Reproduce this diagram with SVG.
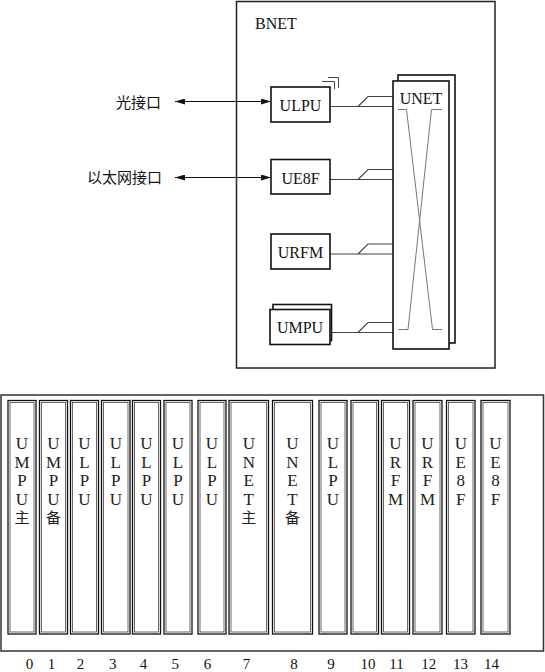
<svg xmlns="http://www.w3.org/2000/svg" width="545" height="672" viewBox="0 0 545 672">
<style>
.box{fill:#fff;stroke:#111;stroke-width:1.6}
.frame{fill:none;stroke:#222;stroke-width:1.5}
.t{font-family:"Liberation Serif","Noto Sans CJK SC",serif;fill:#111}
.cj{font-family:"Noto Sans CJK SC",sans-serif;fill:#111}
.ln{fill:none;stroke:#444;stroke-width:1.1}
.xl{fill:none;stroke:#777;stroke-width:1}
.ar{fill:none;stroke:#111;stroke-width:1}
.so{fill:#fff;stroke:#111;stroke-width:1.3}
.si{fill:none;stroke:#444;stroke-width:0.8}
.st{font-family:"Liberation Serif","Noto Sans CJK SC",serif;font-size:17px;fill:#222;text-anchor:middle}
.dg{font-family:"Liberation Serif",serif;font-size:15px;fill:#111;text-anchor:middle}
</style>
<defs>
<marker id="ah" viewBox="0 0 10 6" refX="10" refY="3" markerWidth="10" markerHeight="6" markerUnits="userSpaceOnUse" orient="auto-start-reverse">
<path d="M0,0 L10,3 L0,6 Z" fill="#111"/>
</marker>
</defs>

<g id="bnet">
<rect class="frame" x="236.5" y="1.5" width="258.5" height="366.5"/>
<text class="t" x="255" y="29" font-size="16">BNET</text>
</g>

<g id="connectors">
<line class="ar" x1="175" y1="101.5" x2="271" y2="101.5" marker-start="url(#ah)" marker-end="url(#ah)"/>
<line class="ar" x1="175" y1="177.5" x2="271" y2="177.5" marker-start="url(#ah)" marker-end="url(#ah)"/>
<path class="ln" d="M330,106.5 H393 M358,106.5 L368,96.5 H393"/>
<path class="ln" d="M330,179.5 H393 M358,179.5 L368,169.5 H393"/>
<path class="ln" d="M330,254 H393 M358,254 L368,244 H393"/>
<path class="ln" d="M330,332.5 H393 M358,332.5 L368,322.5 H393"/>
</g>

<g id="lbl-optical">
<text class="cj" x="161" y="108" font-size="15" text-anchor="end">光接口</text>
</g>
<g id="lbl-eth">
<text class="cj" x="162" y="183" font-size="15" text-anchor="end">以太网接口</text>
</g>

<g id="ulpu">
<rect class="box" x="271" y="87" width="59" height="35"/>
<text class="t" x="300.5" y="110.5" font-size="16" text-anchor="middle">ULPU</text>
<path fill="none" stroke="#444" stroke-width="1" d="M322,81.5 H334.5 V89 M328,77.5 H338.5 V88"/>
</g>

<g id="ue8f">
<rect class="box" x="271" y="159.5" width="59" height="34.5"/>
<text class="t" x="300.5" y="183.5" font-size="16" text-anchor="middle">UE8F</text>
</g>

<g id="urfm">
<rect class="box" x="271" y="234" width="59" height="35"/>
<text class="t" x="300.5" y="258" font-size="16" text-anchor="middle">URFM</text>
</g>

<g id="umpu">
<rect class="box" x="273" y="304.5" width="58.5" height="36"/>
<rect class="box" x="270" y="309.5" width="60" height="35"/>
<text class="t" x="300" y="332.5" font-size="16" text-anchor="middle">UMPU</text>
</g>

<g id="unet">
<rect class="box" x="398" y="75" width="57" height="268"/>
<rect class="box" x="393" y="81" width="56" height="268"/>
<text class="t" x="421" y="103.5" font-size="16" text-anchor="middle">UNET</text>
<path class="xl" d="M398,109.5 H406.5 L432.5,329.5 H442 M442,109.5 H431.5 L408,329.5 H398.5"/>
</g>

<g id="chassis">
<rect fill="none" stroke="#333" stroke-width="1.5" x="1" y="395" width="542.5" height="256"/>
</g>

<g id="slot0"><rect class="so" x="8" y="400.5" width="28" height="233.5"/><rect class="si" x="10" y="402.5" width="24" height="229.5"/>
<text class="st" x="22" y="449">U<tspan x="22" dy="18.5">M</tspan><tspan x="22" dy="18.5">P</tspan><tspan x="22" dy="18.5">U</tspan><tspan x="22" dy="18.5" font-size="15">主</tspan></text></g>
<g id="slot1"><rect class="so" x="39.5" y="400.5" width="28" height="233.5"/><rect class="si" x="41.5" y="402.5" width="24" height="229.5"/>
<text class="st" x="53.5" y="449">U<tspan x="53.5" dy="18.5">M</tspan><tspan x="53.5" dy="18.5">P</tspan><tspan x="53.5" dy="18.5">U</tspan><tspan x="53.5" dy="18.5" font-size="15">备</tspan></text></g>
<g id="slot2"><rect class="so" x="70.5" y="400.5" width="28" height="233.5"/><rect class="si" x="72.5" y="402.5" width="24" height="229.5"/>
<text class="st" x="84.5" y="449">U<tspan x="84.5" dy="18.5">L</tspan><tspan x="84.5" dy="18.5">P</tspan><tspan x="84.5" dy="18.5">U</tspan></text></g>
<g id="slot3"><rect class="so" x="101.5" y="400.5" width="28.5" height="233.5"/><rect class="si" x="103.5" y="402.5" width="24.5" height="229.5"/>
<text class="st" x="115.8" y="449">U<tspan x="115.8" dy="18.5">L</tspan><tspan x="115.8" dy="18.5">P</tspan><tspan x="115.8" dy="18.5">U</tspan></text></g>
<g id="slot4"><rect class="so" x="132.5" y="400.5" width="28" height="233.5"/><rect class="si" x="134.5" y="402.5" width="24" height="229.5"/>
<text class="st" x="146.5" y="449">U<tspan x="146.5" dy="18.5">L</tspan><tspan x="146.5" dy="18.5">P</tspan><tspan x="146.5" dy="18.5">U</tspan></text></g>
<g id="slot5"><rect class="so" x="164" y="400.5" width="28" height="233.5"/><rect class="si" x="166" y="402.5" width="24" height="229.5"/>
<text class="st" x="178" y="449">U<tspan x="178" dy="18.5">L</tspan><tspan x="178" dy="18.5">P</tspan><tspan x="178" dy="18.5">U</tspan></text></g>
<g id="slot6"><rect class="so" x="198" y="400.5" width="28" height="233.5"/><rect class="si" x="200" y="402.5" width="24" height="229.5"/>
<text class="st" x="212" y="449">U<tspan x="212" dy="18.5">L</tspan><tspan x="212" dy="18.5">P</tspan><tspan x="212" dy="18.5">U</tspan></text></g>
<g id="slot7"><rect class="so" x="229" y="400.5" width="39.5" height="233.5"/><rect class="si" x="231" y="402.5" width="35.5" height="229.5"/>
<text class="st" x="248.8" y="449">U<tspan x="248.8" dy="18.5">N</tspan><tspan x="248.8" dy="18.5">E</tspan><tspan x="248.8" dy="18.5">T</tspan><tspan x="248.8" dy="18.5" font-size="15">主</tspan></text></g>
<g id="slot8"><rect class="so" x="272.5" y="400.5" width="40" height="233.5"/><rect class="si" x="274.5" y="402.5" width="36" height="229.5"/>
<text class="st" x="292.5" y="449">U<tspan x="292.5" dy="18.5">N</tspan><tspan x="292.5" dy="18.5">E</tspan><tspan x="292.5" dy="18.5">T</tspan><tspan x="292.5" dy="18.5" font-size="15">备</tspan></text></g>
<g id="slot9"><rect class="so" x="319" y="400.5" width="28" height="233.5"/><rect class="si" x="321" y="402.5" width="24" height="229.5"/>
<text class="st" x="333" y="449">U<tspan x="333" dy="18.5">L</tspan><tspan x="333" dy="18.5">P</tspan><tspan x="333" dy="18.5">U</tspan></text></g>
<g id="slot10"><rect class="so" x="351" y="400.5" width="27.5" height="233.5"/><rect class="si" x="353" y="402.5" width="23.5" height="229.5"/></g>
<g id="slot11"><rect class="so" x="381.5" y="400.5" width="28" height="233.5"/><rect class="si" x="383.5" y="402.5" width="24" height="229.5"/>
<text class="st" x="395.5" y="449">U<tspan x="395.5" dy="18.5">R</tspan><tspan x="395.5" dy="18.5">F</tspan><tspan x="395.5" dy="18.5">M</tspan></text></g>
<g id="slot12"><rect class="so" x="413" y="400.5" width="29" height="233.5"/><rect class="si" x="415" y="402.5" width="25" height="229.5"/>
<text class="st" x="427.5" y="449">U<tspan x="427.5" dy="18.5">R</tspan><tspan x="427.5" dy="18.5">F</tspan><tspan x="427.5" dy="18.5">M</tspan></text></g>
<g id="slot13"><rect class="so" x="446.5" y="400.5" width="28.5" height="233.5"/><rect class="si" x="448.5" y="402.5" width="24.5" height="229.5"/>
<text class="st" x="460.8" y="449">U<tspan x="460.8" dy="18.5">E</tspan><tspan x="460.8" dy="18.5">8</tspan><tspan x="460.8" dy="18.5">F</tspan></text></g>
<g id="slot14"><rect class="so" x="481" y="400.5" width="29" height="233.5"/><rect class="si" x="483" y="402.5" width="25" height="229.5"/>
<text class="st" x="495.5" y="449">U<tspan x="495.5" dy="18.5">E</tspan><tspan x="495.5" dy="18.5">8</tspan><tspan x="495.5" dy="18.5">F</tspan></text></g>

<g id="slot-numbers">
<text class="dg" x="29.5" y="669">0</text>
<text class="dg" x="51.5" y="669">1</text>
<text class="dg" x="80.5" y="669">2</text>
<text class="dg" x="112.8" y="669">3</text>
<text class="dg" x="143.4" y="669">4</text>
<text class="dg" x="175.3" y="669">5</text>
<text class="dg" x="207.6" y="669">6</text>
<text class="dg" x="246.5" y="669">7</text>
<text class="dg" x="294" y="669">8</text>
<text class="dg" x="331" y="669">9</text>
<text class="dg" x="368" y="669">10</text>
<text class="dg" x="396.5" y="669">11</text>
<text class="dg" x="428.8" y="669">12</text>
<text class="dg" x="460.5" y="669">13</text>
<text class="dg" x="491.5" y="669">14</text>
</g>
</svg>
